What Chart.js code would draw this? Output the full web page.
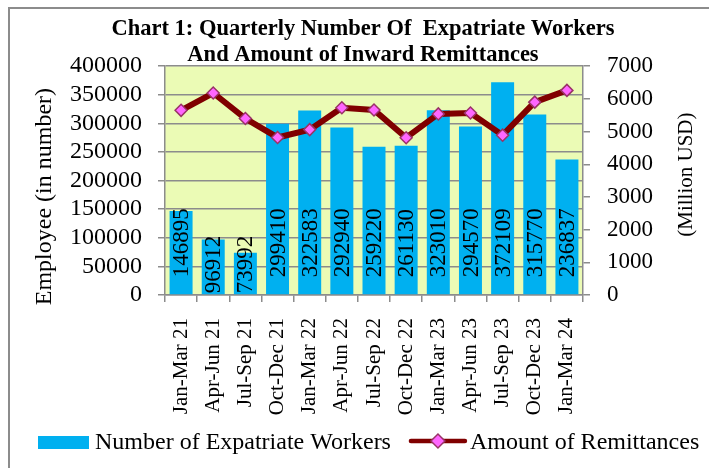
<!DOCTYPE html>
<html>
<head>
<meta charset="utf-8">
<script src="https://cdn.jsdelivr.net/npm/chart.js@4.4.1/dist/chart.umd.min.js"></script>
<style>
  html, body { margin: 0; padding: 0; background: #fff; }
  #wrap { width: 709px; height: 468px; }
</style>
</head>
<body>
<div id="wrap"><canvas id="chart" width="709" height="468"></canvas></div>
<script>
// quarters shown on the category axis
const quarters = ['Jan-Mar 21', 'Apr-Jun 21', 'Jul-Sep 21', 'Oct-Dec 21', 'Jan-Mar 22', 'Apr-Jun 22',
    'Jul-Sep 22', 'Oct-Dec 22', 'Jan-Mar 23', 'Apr-Jun 23', 'Jul-Sep 23', 'Oct-Dec 23', 'Jan-Mar 24'];
// number of expatriate workers (left axis)
const workers = [146895, 96912, 73992, 299410, 322583, 292940, 259220, 261130, 323010, 294570, 372109, 315770, 236837];
// inward remittances, million USD (right axis)
const remittances = [5650, 6180, 5400, 4820, 5060, 5730, 5660, 4810, 5540, 5570, 4890, 5900, 6260];

const titleLines = ['Chart 1: Quarterly Number Of  Expatriate Workers', 'And Amount of Inward Remittances'];
const leftTitle = 'Employee (in number)';
const rightTitle = '(Million USD)';

const FONT = "'Liberation Serif', 'Times New Roman', serif";
const GRID = '#8c8c8c';
const BAR = '#00B0F0';
const LINE = '#800000';
const MARK = '#FF66FF';
const MARK_EDGE = '#993366';

Chart.defaults.font.family = FONT;
Chart.defaults.color = '#000';

// plot background and outer frame
const framePlugin = {
    id: 'frame',
    beforeDraw(chart) {
        const { ctx, chartArea: a } = chart;
        ctx.save();
        ctx.fillStyle = '#EBFBB5';
        ctx.fillRect(a.left, a.top, a.right - a.left, a.bottom - a.top);
        ctx.strokeStyle = GRID;
        ctx.lineWidth = 2;
        ctx.beginPath();
        ctx.moveTo(9, chart.height + 5);
        ctx.lineTo(9, 8);
        ctx.lineTo(chart.width + 5, 8);
        ctx.stroke();
        ctx.restore();
    }
};

// vertical value labels inside the bars
const barLabelPlugin = {
    id: 'barLabels',
    afterDatasetsDraw(chart) {
        const { ctx } = chart;
        const meta = chart.getDatasetMeta(0);
        ctx.save();
        ctx.font = '23px ' + FONT;
        ctx.fillStyle = '#000';
        ctx.textAlign = 'left';
        ctx.textBaseline = 'middle';
        meta.data.forEach((bar, i) => {
            const txt = String(workers[i]);
            const w = ctx.measureText(txt).width;
            const h = bar.base - bar.y;
            const start = h < w + 10 ? bar.base - 1 : bar.base - 17;
            ctx.save();
            ctx.translate(bar.x + 1, start);
            ctx.rotate(-Math.PI / 2);
            ctx.fillText(txt, 0, 0);
            ctx.restore();
        });
        ctx.restore();
    }
};

// axis titles (both read bottom to top) and the legend
const textPlugin = {
    id: 'texts',
    afterDraw(chart) {
        const { ctx, chartArea: a } = chart;
        ctx.save();
        ctx.fillStyle = '#000';
        ctx.textBaseline = 'middle';
        ctx.textAlign = 'center';

        ctx.font = '24px ' + FONT;
        ctx.save();
        ctx.translate(45, (a.top + a.bottom) / 2 + 16);
        ctx.rotate(-Math.PI / 2);
        ctx.fillText(leftTitle, 0, 0);
        ctx.restore();

        ctx.font = '21px ' + FONT;
        ctx.save();
        ctx.translate(686, (a.top + a.bottom) / 2 - 6);
        ctx.rotate(-Math.PI / 2);
        ctx.fillText(rightTitle, 0, 0);
        ctx.restore();

        // legend
        const ly = 442;
        ctx.font = '24px ' + FONT;
        ctx.textAlign = 'left';
        let x = 38;
        ctx.fillStyle = BAR;
        ctx.fillRect(x, ly - 6, 51, 13);
        x += 57;
        ctx.fillStyle = '#000';
        const t1 = chart.data.datasets[0].label;
        ctx.fillText(t1, x, ly + 1);
        x += ctx.measureText(t1).width + 20;

        ctx.strokeStyle = LINE;
        ctx.lineWidth = 4.5;
        ctx.lineCap = 'round';
        ctx.beginPath();
        ctx.moveTo(x, ly - 1);
        ctx.lineTo(x + 54, ly - 1);
        ctx.stroke();
        const cx = x + 27, r = 7;
        ctx.beginPath();
        ctx.moveTo(cx, ly - 1 - r);
        ctx.lineTo(cx + r, ly - 1);
        ctx.lineTo(cx, ly - 1 + r);
        ctx.lineTo(cx - r, ly - 1);
        ctx.closePath();
        ctx.fillStyle = MARK;
        ctx.fill();
        ctx.strokeStyle = MARK_EDGE;
        ctx.lineWidth = 1.5;
        ctx.stroke();
        x += 59;
        ctx.fillStyle = '#000';
        ctx.fillText(chart.data.datasets[1].label, x, ly + 1);
        ctx.restore();
    }
};

new Chart(document.getElementById('chart'), {
    type: 'bar',
    data: {
        labels: quarters,
        datasets: [
            {
                type: 'bar',
                label: 'Number of Expatriate Workers',
                data: workers,
                yAxisID: 'y',
                backgroundColor: BAR,
                borderWidth: 0,
                barPercentage: 0.715,
                categoryPercentage: 1,
                order: 1
            },
            {
                type: 'line',
                label: 'Amount of Remittances',
                data: remittances,
                yAxisID: 'y2',
                borderColor: LINE,
                borderWidth: 6,
                tension: 0,
                pointStyle: 'rectRot',
                pointRadius: 6,
                pointBackgroundColor: MARK,
                pointBorderColor: MARK_EDGE,
                pointBorderWidth: 1.5,
                order: 0
            }
        ]
    },
    options: {
        responsive: false,
        animation: false,
        layout: { padding: { left: 17, right: 0, top: 0, bottom: 48 } },
        plugins: {
            legend: { display: false },
            tooltip: { enabled: false },
            title: {
                display: true,
                text: titleLines,
                color: '#000',
                font: { size: 22.5, weight: 'bold', lineHeight: 1.16 },
                padding: { top: 16, bottom: -2 }
            }
        },
        scales: {
            x: {
                grid: { drawOnChartArea: false, offset: true, color: GRID, lineWidth: 1.5, tickLength: 7 },
                border: { color: GRID, width: 1.5 },
                ticks: { minRotation: 90, maxRotation: 90, autoSkip: false, padding: 16, font: { size: 21 }, color: '#000' },
                afterFit(scale) { scale.height = 125; }
            },
            y: {
                position: 'left',
                min: 0,
                max: 400000,
                grid: { color: GRID, lineWidth: 1.5, tickLength: 7 },
                border: { color: GRID, width: 1.5 },
                ticks: { stepSize: 50000, autoSkip: false, padding: 16, font: { size: 24 }, color: '#000', callback: v => String(v) },
                afterFit(scale) { scale.width = 148; }
            },
            y2: {
                position: 'right',
                min: 0,
                max: 7000,
                grid: { drawOnChartArea: false, color: GRID, lineWidth: 1.5, tickLength: 7 },
                border: { color: GRID, width: 1.5 },
                ticks: { stepSize: 1000, autoSkip: false, padding: 17, font: { size: 23 }, color: '#000', callback: v => String(v) },
                afterFit(scale) { scale.width = 126; }
            }
        }
    },
    plugins: [framePlugin, barLabelPlugin, textPlugin]
});
</script>
</body>
</html>
